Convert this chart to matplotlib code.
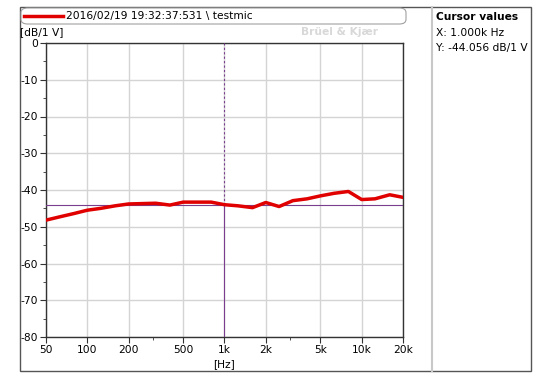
import numpy as np
import matplotlib
matplotlib.use("Agg")
import matplotlib.pyplot as plt
from matplotlib.patches import FancyBboxPatch, Rectangle
from matplotlib.lines import Line2D
from matplotlib.ticker import FixedLocator, NullFormatter

plt.rcParams["font.family"] = ["DejaVu Sans"]
plt.rcParams["axes.unicode_minus"] = False

# third-octave bands and measured level
freq = [50, 63, 80, 100, 125, 160, 200, 250, 315, 400, 500, 630, 800, 1000,
        1250, 1600, 2000, 2500, 3150, 4000, 5000, 6300, 8000, 10000, 12500, 16000, 20000]
level = [-48.2, -47.3, -46.4, -45.5, -45.0, -44.3, -43.8, -43.7, -43.6, -44.1, -43.3, -43.3, -43.3, -44.0,
         -44.3, -44.8, -43.4, -44.5, -42.9, -42.4, -41.6, -40.9, -40.4, -42.6, -42.4, -41.3, -42.0]

cursor_x = 1000
cursor_y = -44.056

xticks = [50, 100, 200, 500, 1000, 2000, 5000, 10000, 20000]
xlabels = ["50", "100", "200", "500", "1k", "2k", "5k", "10k", "20k"]
yticks = [0, -10, -20, -30, -40, -50, -60, -70, -80]

legend_text = "2016/02/19 19:32:37:531 \\ testmic"
purple = "#7a3e8e"
fs = 7.7

fig = plt.figure(figsize=(5.52, 3.88), dpi=100)
W, H = 552, 388

def fx(px):
    return px / W

def fy(py):
    return 1 - py / H

# outer frame and panels
fig.add_artist(Rectangle((fx(20), fy(371)), fx(531) - fx(20), fy(7) - fy(371),
                         transform=fig.transFigure, fill=False, ec="#555555", lw=1))
fig.add_artist(Line2D([fx(432), fx(432)], [fy(7), fy(371)], transform=fig.transFigure,
                      color="#c8c8c8", lw=1.5))
fig.add_artist(FancyBboxPatch((fx(21), fy(24)), fx(406) - fx(21), fy(8) - fy(24),
                              boxstyle="round,pad=0,rounding_size=0.012",
                              transform=fig.transFigure, fill=True, fc="white",
                              ec="#a0a0a0", lw=0.8))
fig.add_artist(Line2D([fx(24), fx(63)], [fy(16), fy(16)], transform=fig.transFigure,
                      color="#e00000", lw=2.5))
fig.text(fx(66), fy(16), legend_text, fontsize=fs, va="center", ha="left")

fig.text(fx(436), fy(17), "Cursor values", fontsize=fs, fontweight="bold", va="center")
fig.text(fx(436), fy(33), "X: 1.000k Hz", fontsize=fs, va="center")
fig.text(fx(436), fy(48), "Y: -44.056 dB/1 V", fontsize=fs, va="center")

fig.text(fx(20), fy(32), "[dB/1 V]", fontsize=fs, va="center")
fig.text(fx(378), fy(32), "Brüel & Kjær", fontsize=fs, va="center", ha="right",
         color="#d8d8d8", fontweight="bold")

ax = fig.add_axes([fx(46), fy(337), fx(403) - fx(46), fy(43) - fy(337)])
ax.set_xscale("log")
ax.set_xlim(50, 20000)
ax.set_ylim(-80, 0)

ax.plot(freq, level, color="#e00000", lw=2.5, zorder=4)

# cursor lines
ax.axhline(cursor_y, color=purple, lw=0.8, zorder=3)
ax.plot([cursor_x, cursor_x], [cursor_y, 0], color=purple, lw=0.8, ls=(0, (2, 2)), zorder=3)
ax.plot([cursor_x, cursor_x], [-80, cursor_y], color=purple, lw=0.8, zorder=3)

ax.xaxis.set_major_locator(FixedLocator(xticks))
ax.set_xticklabels(xlabels)
ax.xaxis.set_minor_locator(FixedLocator([300, 3000]))
ax.xaxis.set_minor_formatter(NullFormatter())
ax.set_yticks(yticks)
ax.set_yticks(np.arange(-75, 0, 10), minor=True)

ax.grid(True, which="major", color="#d4d4d4", lw=1)
ax.set_axisbelow(True)
ax.tick_params(which="major", length=4, labelsize=fs, color="#333333", pad=2)
ax.tick_params(which="minor", length=2, color="#333333")
for s in ax.spines.values():
    s.set_color("#333333")
    s.set_linewidth(1)

ax.set_xlabel("[Hz]", fontsize=fs, labelpad=3)

fig.savefig("out.png", dpi=100)
